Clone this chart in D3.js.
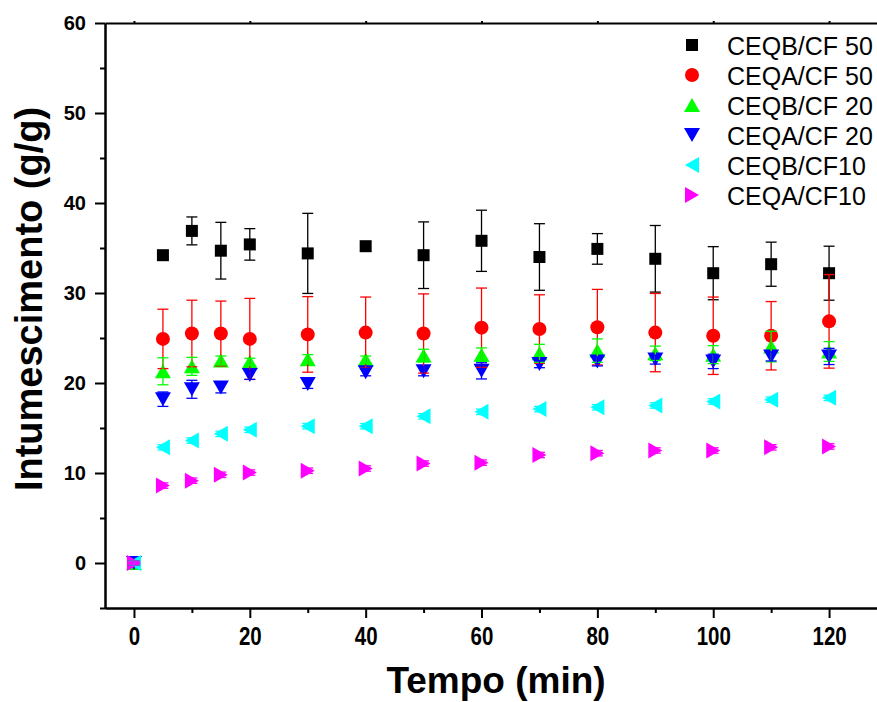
<!DOCTYPE html>
<html>
<head>
  <meta charset="utf-8">
  <title>Intumescimento x Tempo</title>
  <style>
    body { margin: 0; background: #fff; }
    svg { display: block; overflow: hidden; }
    text { font-family: "Liberation Sans", Arial, sans-serif; }
  </style>
</head>
<body>

  <script src="https://d3js.org/d3.v7.min.js"></script>
  <script type="text/javascript">

    // data (g/g vs min)
    var tempo = [0, 5, 10, 15, 20, 30, 40, 50, 60, 70, 80, 90, 100, 110, 120];

    var ceqbCf50    = [0, 34.2, 36.9, 34.7, 35.4, 34.4, 35.2, 34.2, 35.8, 34.0, 34.9, 33.8, 32.2, 33.2, 32.2];
    var ceqbCf50Err = [0.2, 0.3, 1.55, 3.15, 1.75, 4.45, 0.5, 3.7, 3.4, 3.7, 1.7, 3.7, 2.95, 2.45, 3.0];

    var ceqaCf50    = [0, 24.9, 25.5, 25.5, 24.9, 25.4, 25.6, 25.5, 26.15, 26.0, 26.2, 25.6, 25.25, 25.25, 26.85];
    var ceqaCf50Err = [0.2, 3.3, 3.7, 3.6, 4.5, 4.2, 3.95, 4.4, 4.4, 3.8, 4.2, 4.35, 4.3, 3.8, 5.2];

    var ceqbCf20    = [0, 21.3, 21.85, 22.5, 22.35, 22.65, 22.6, 23.05, 23.15, 23.3, 23.6, 23.3, 23.15, 24.05, 23.5];
    var ceqbCf20Err = [0.2, 1.5, 1.0, 0.5, 0.4, 0.5, 0.4, 0.7, 0.75, 1.0, 1.3, 0.8, 1.0, 1.7, 1.1];

    var ceqaCf20    = [0, 18.2, 19.3, 19.5, 20.9, 19.9, 21.2, 21.3, 21.35, 22.1, 22.4, 22.6, 22.4, 22.95, 22.95];
    var ceqaCf20Err = [0.2, 0.8, 1.0, 0.6, 0.5, 0.5, 0.4, 0.5, 0.9, 0.4, 0.5, 0.5, 0.8, 0.5, 0.9];

    var ceqbCf10    = [0, 12.85, 13.6, 14.35, 14.8, 15.2, 15.2, 16.3, 16.8, 17.1, 17.3, 17.5, 17.95, 18.15, 18.35];
    var ceqbCf10Err = [0.2, 0.3, 0.3, 0.3, 0.3, 0.3, 0.3, 0.3, 0.3, 0.3, 0.3, 0.3, 0.3, 0.3, 0.3];

    var ceqaCf10    = [0, 8.6, 9.15, 9.8, 10.05, 10.25, 10.5, 11.05, 11.15, 12.0, 12.2, 12.5, 12.5, 12.85, 12.95];
    var ceqaCf10Err = [0.2, 0.3, 0.3, 0.3, 0.3, 0.3, 0.3, 0.3, 0.3, 0.3, 0.3, 0.3, 0.3, 0.3, 0.3];

    var seriesNames = ["CEQB/CF 50", "CEQA/CF 50", "CEQB/CF 20", "CEQA/CF 20", "CEQB/CF10", "CEQA/CF10"];

    var xTicks = [0, 20, 40, 60, 80, 100, 120];
    var yTicks = [0, 10, 20, 30, 40, 50, 60];

    var series = [
      { name: seriesNames[0], values: ceqbCf50, err: ceqbCf50Err, color: "#000000", shape: "square" },
      { name: seriesNames[1], values: ceqaCf50, err: ceqaCf50Err, color: "#ff0000", shape: "circle" },
      { name: seriesNames[2], values: ceqbCf20, err: ceqbCf20Err, color: "#00ff00", shape: "up" },
      { name: seriesNames[3], values: ceqaCf20, err: ceqaCf20Err, color: "#0000ff", shape: "down" },
      { name: seriesNames[4], values: ceqbCf10, err: ceqbCf10Err, color: "#00ffff", shape: "left" },
      { name: seriesNames[5], values: ceqaCf10, err: ceqaCf10Err, color: "#ff00ff", shape: "right" }
    ];

    var margin = {top: 23, left: 105},
        width = 782,
        height = 585;

    var svg = d3.select("body")
      .append("svg")
      .attr("width", 877)
      .attr("height", 702);

    var chart = svg.append("g")
      .attr("transform", "translate(" + margin.left + "," + margin.top + ")");

    // x runs past the right edge of the picture, as in the original
    var x = d3.scaleLinear().domain([-5, 130]).range([0, width]);
    var y = d3.scaleLinear().domain([-5, 60]).range([height, 0]);

    // marker outlines, centred on 0,0
    function shapePath(kind) {
      if (kind === "square") return "M-6,-6h12v12h-12Z";
      if (kind === "circle") return d3.symbol(d3.symbolCircle, Math.PI * 49)();
      if (kind === "up") return "M0,-7L8,7L-8,7Z";
      if (kind === "down") return "M0,7L8,-7L-8,-7Z";
      if (kind === "left") return "M-7,0L7,-8L7,8Z";
      return "M7,0L-7,-8L-7,8Z";
    }

    function styleAxis(g) {
      g.selectAll("path.domain").attr("stroke", "#000").attr("stroke-width", 2);
      g.selectAll(".tick line").attr("stroke", "#000").attr("stroke-width", 2);
    }

    // axes
    var yAxis = chart.append("g")
      .call(d3.axisLeft(y).tickValues(yTicks).tickSize(10).tickSizeOuter(0).tickPadding(9))
      .call(styleAxis);
    yAxis.selectAll("text")
      .attr("font-size", "20px")
      .attr("font-weight", "bold")
      .attr("fill", "#000");

    chart.append("g")
      .call(d3.axisLeft(y).tickValues([-5, 5, 15, 25, 35, 45, 55]).tickSize(5).tickSizeOuter(0).tickFormat(""))
      .call(styleAxis);

    var xAxis = chart.append("g")
      .attr("transform", "translate(0," + height + ")")
      .call(d3.axisBottom(x).tickValues(xTicks).tickSize(10).tickSizeOuter(0))
      .call(styleAxis);
    xAxis.selectAll("text")
      .attr("font-size", "25px")
      .attr("font-weight", "bold")
      .attr("fill", "#000")
      .attr("dy", null)
      .attr("y", 37)
      .attr("transform", "scale(0.82,1)");

    chart.append("g")
      .attr("transform", "translate(0," + height + ")")
      .call(d3.axisBottom(x).tickValues([10, 30, 50, 70, 90, 110, 130]).tickSize(5).tickSizeOuter(0).tickFormat(""))
      .call(styleAxis);

    chart.append("g")
      .call(d3.axisTop(x).tickValues(xTicks).tickSize(2).tickSizeOuter(0).tickFormat(""))
      .call(styleAxis);

    // markers
    series.forEach(function(s) {
      chart.append("g")
        .selectAll("path")
        .data(tempo)
        .enter()
        .append("path")
        .attr("d", shapePath(s.shape))
        .attr("transform", function(t, i) { return "translate(" + x(t) + "," + y(s.values[i]) + ")"; })
        .attr("fill", s.color);
    });

    // error bars drawn over the markers
    series.forEach(function(s) {
      var eb = chart.append("g")
        .attr("stroke", s.color)
        .attr("stroke-width", 1.3)
        .selectAll("g")
        .data(tempo)
        .enter()
        .append("g");

      eb.append("line")
        .attr("x1", function(t) { return x(t); })
        .attr("x2", function(t) { return x(t); })
        .attr("y1", function(t, i) { return y(s.values[i] - s.err[i]); })
        .attr("y2", function(t, i) { return y(s.values[i] + s.err[i]); });

      eb.append("line")
        .attr("x1", function(t) { return x(t) - 5.5; })
        .attr("x2", function(t) { return x(t) + 5.5; })
        .attr("y1", function(t, i) { return y(s.values[i] + s.err[i]); })
        .attr("y2", function(t, i) { return y(s.values[i] + s.err[i]); });

      eb.append("line")
        .attr("x1", function(t) { return x(t) - 5.5; })
        .attr("x2", function(t) { return x(t) + 5.5; })
        .attr("y1", function(t, i) { return y(s.values[i] - s.err[i]); })
        .attr("y2", function(t, i) { return y(s.values[i] - s.err[i]); });
    });

    // legend
    var legend = svg.append("g")
      .selectAll("g")
      .data(series)
      .enter()
      .append("g")
      .attr("transform", function(d, i) { return "translate(692," + (45 + i * 30) + ")"; });

    legend.append("path")
      .attr("d", function(d) { return shapePath(d.shape); })
      .attr("fill", function(d) { return d.color; });

    legend.append("text")
      .attr("x", 35)
      .attr("y", 10)
      .attr("font-size", "25px")
      .attr("fill", "#000")
      .text(function(d) { return d.name; });

    // axis titles
    svg.append("text")
      .attr("x", 496)
      .attr("y", 693)
      .attr("text-anchor", "middle")
      .attr("font-size", "37px")
      .attr("font-weight", "bold")
      .text("Tempo (min)");

    svg.append("text")
      .attr("transform", "translate(42,299) rotate(-90)")
      .attr("text-anchor", "middle")
      .attr("font-size", "38px")
      .attr("font-weight", "bold")
      .text("Intumescimento (g/g)");

  </script>
</body>
</html>
